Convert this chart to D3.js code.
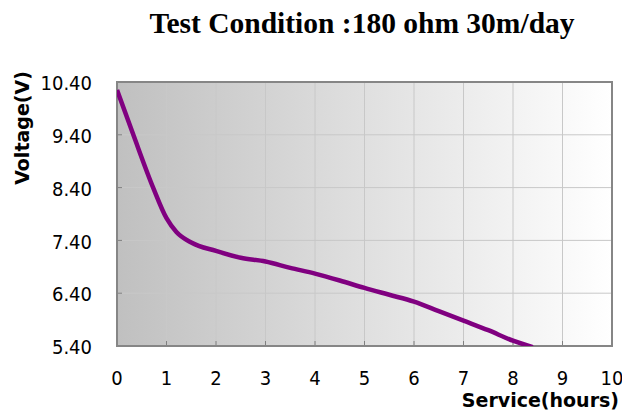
<!DOCTYPE html>
<html>
<head>
<meta charset="utf-8">
<script src="https://cdn.jsdelivr.net/npm/d3@7"></script>
<style>
  body { margin: 0; background: #fff; }
  svg { display: block; }
</style>
</head>
<body>
<div id="chart"></div>
<script>
const hours = [0, 0.33, 0.73, 1.0, 1.2, 1.5, 2.0, 2.5, 3.0, 3.5, 4.0, 4.5, 5.0, 5.5, 6.0, 6.5, 7.0, 7.5, 8.0, 8.4];
const volts = [10.25, 9.40, 8.40, 7.82, 7.56, 7.36, 7.20, 7.07, 7.00, 6.88, 6.77, 6.64, 6.50, 6.37, 6.24, 6.06, 5.88, 5.70, 5.50, 5.38];
const xTicks = [0, 1, 2, 3, 4, 5, 6, 7, 8, 9, 10];
const yTicks = [5.4, 6.4, 7.4, 8.4, 9.4, 10.4];

const width = 622, height = 414;
const plot = { left: 117, top: 82, right: 612, bottom: 346 };
const condensed = "'DejaVu Sans Condensed', 'DejaVu Sans', sans-serif";
const bold = "'DejaVu Sans', Verdana, sans-serif";

const svg = d3.select("#chart").append("svg")
  .attr("width", width)
  .attr("height", height);

const x = d3.scaleLinear().domain([0, 10]).range([plot.left, plot.right]);
const y = d3.scaleLinear().domain([5.4, 10.4]).range([plot.bottom, plot.top]);

// background gradient
const grad = svg.append("defs").append("linearGradient")
  .attr("id", "bg").attr("x1", "0").attr("x2", "1").attr("y1", "0").attr("y2", "0");
grad.append("stop").attr("offset", "0%").attr("stop-color", "#c0c0c0");
grad.append("stop").attr("offset", "100%").attr("stop-color", "#ffffff");

svg.append("clipPath").attr("id", "clip").append("rect")
  .attr("x", plot.left).attr("y", plot.top)
  .attr("width", plot.right - plot.left).attr("height", plot.bottom - plot.top);

svg.append("rect")
  .attr("x", plot.left).attr("y", plot.top)
  .attr("width", plot.right - plot.left).attr("height", plot.bottom - plot.top)
  .attr("fill", "url(#bg)");

// grid
svg.append("g").selectAll("line").data(xTicks.slice(1, -1)).join("line")
  .attr("x1", d => x(d)).attr("x2", d => x(d))
  .attr("y1", plot.top).attr("y2", plot.bottom)
  .attr("stroke", "#c8c8c8").attr("stroke-width", 1);
svg.append("g").selectAll("line").data(yTicks.slice(1, -1)).join("line")
  .attr("x1", plot.left).attr("x2", plot.right)
  .attr("y1", d => y(d)).attr("y2", d => y(d))
  .attr("stroke", "#c8c8c8").attr("stroke-width", 1);

// inner ticks
svg.append("g").selectAll("line").data(yTicks.slice(1, -1)).join("line")
  .attr("x1", plot.left).attr("x2", plot.left + 5)
  .attr("y1", d => y(d)).attr("y2", d => y(d))
  .attr("stroke", "#808080");
svg.append("g").selectAll("line").data(xTicks.slice(1, -1)).join("line")
  .attr("x1", d => x(d)).attr("x2", d => x(d))
  .attr("y1", plot.bottom).attr("y2", plot.bottom - 5)
  .attr("stroke", "#808080");

// frame
svg.append("rect")
  .attr("x", plot.left).attr("y", plot.top)
  .attr("width", plot.right - plot.left).attr("height", plot.bottom - plot.top)
  .attr("fill", "none").attr("stroke", "#868686").attr("stroke-width", 2);

// curve
const line = d3.line()
  .x((d, i) => x(hours[i]))
  .y(d => y(d))
  .curve(d3.curveMonotoneX);

svg.append("path")
  .datum(volts)
  .attr("clip-path", "url(#clip)")
  .attr("d", line)
  .attr("fill", "none")
  .attr("stroke", "#800080")
  .attr("stroke-width", 4.5)
  .attr("stroke-linejoin", "round");

// tick labels
svg.append("g").selectAll("text").data(yTicks).join("text")
  .attr("x", 92).attr("y", d => y(d) + 1)
  .attr("dy", "0.36em")
  .attr("text-anchor", "end")
  .style("font-family", condensed).style("font-stretch", "condensed").style("font-size", "20px")
  .text(d => d.toFixed(2));

svg.append("g").selectAll("text").data(xTicks).join("text")
  .attr("x", d => x(d)).attr("y", 378)
  .attr("dy", "0.36em")
  .attr("text-anchor", "middle")
  .style("font-family", condensed).style("font-stretch", "condensed").style("font-size", "20px")
  .text(d => d);

// axis titles
svg.append("text")
  .attr("x", 619).attr("y", 407)
  .attr("text-anchor", "end")
  .style("font-family", bold).style("font-size", "19px").style("font-weight", "bold")
  .text("Service(hours)");

svg.append("text")
  .attr("transform", "translate(29,128) rotate(-90)")
  .attr("text-anchor", "middle")
  .style("font-family", bold).style("font-size", "19px").style("font-weight", "bold")
  .text("Voltage(V)");

// chart title
svg.append("text")
  .attr("x", 362).attr("y", 33)
  .attr("text-anchor", "middle")
  .style("font-family", "'Liberation Serif', 'Times New Roman', serif")
  .style("font-size", "29.5px").style("font-weight", "bold")
  .text("Test Condition :180 ohm 30m/day");
</script>
</body>
</html>
